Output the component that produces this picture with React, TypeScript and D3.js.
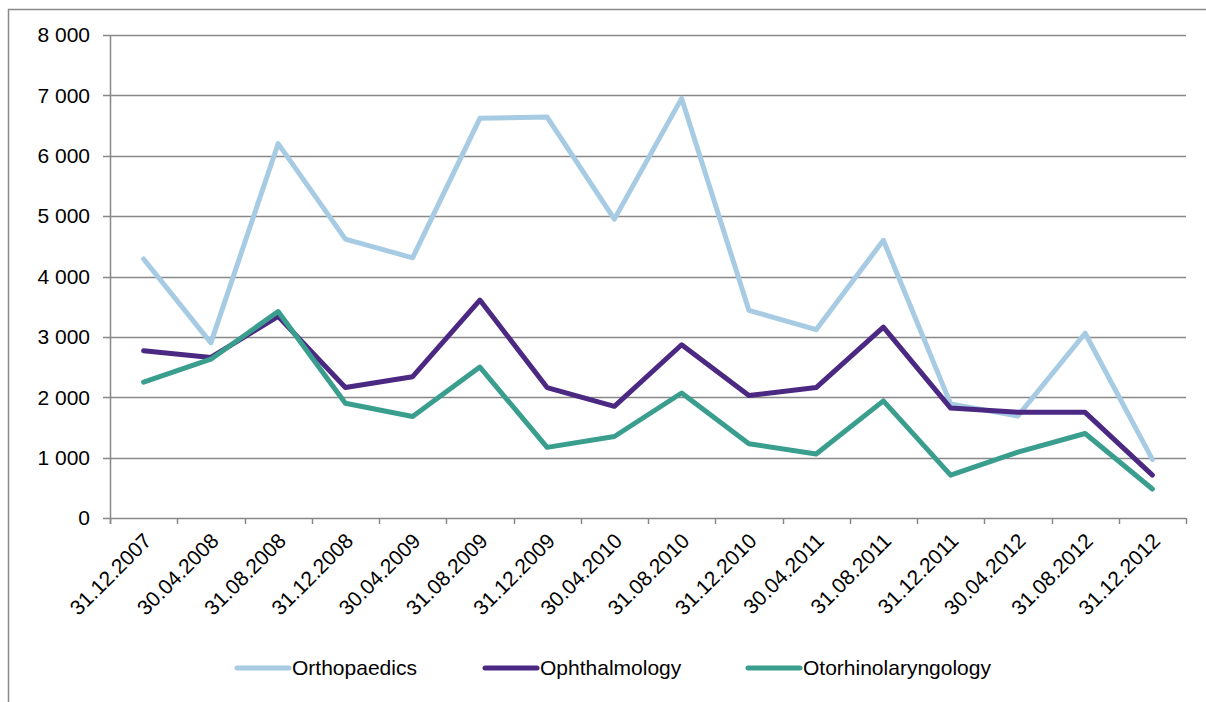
import React, { useEffect, useRef } from 'react'
import * as d3 from 'd3'

const dates = [
  '31.12.2007', '30.04.2008', '31.08.2008', '31.12.2008', '30.04.2009', '31.08.2009',
  '31.12.2009', '30.04.2010', '31.08.2010', '31.12.2010', '30.04.2011', '31.08.2011',
  '31.12.2011', '30.04.2012', '31.08.2012', '31.12.2012',
]
const orthopaedics = [4290, 2900, 6200, 4620, 4310, 6620, 6640, 4950, 6950, 3440, 3120, 4600, 1890, 1690, 3060, 970]
const ophthalmology = [2770, 2660, 3340, 2160, 2340, 3610, 2160, 1850, 2870, 2030, 2160, 3160, 1820, 1750, 1750, 710]
const otorhinolaryngology = [2250, 2630, 3420, 1900, 1680, 2500, 1170, 1350, 2070, 1230, 1060, 1940, 710, 1090, 1400, 480]
const seriesNames = ['Orthopaedics', 'Ophthalmology', 'Otorhinolaryngology']
const seriesColors = ['#A6CBE3', '#4B2882', '#3A9E8E']
const yTicks = [0, 1000, 2000, 3000, 4000, 5000, 6000, 7000, 8000]

const App: React.FC = () => {
  const ref = useRef<SVGSVGElement | null>(null)

  useEffect(() => {
    if (!ref.current) return
    const svg = d3.select(ref.current)
    svg.selectAll('*').remove()
    const width = 1206
    const height = 702
    const margin = { top: 35, right: 20, bottom: 184, left: 110 }
    const font = '"Liberation Sans", Arial, sans-serif'
    const fontSize = 21
    const axisColor = '#888888'

    // outer frame (runs off the picture on the right and bottom)
    svg
      .append('rect')
      .attr('x', 8.5)
      .attr('y', 9.5)
      .attr('width', 1400)
      .attr('height', 900)
      .attr('fill', 'none')
      .attr('stroke', axisColor)
      .attr('stroke-width', 1.5)

    const x = d3
      .scaleBand()
      .domain(dates)
      .range([margin.left, width - margin.right])
    const y = d3
      .scaleLinear()
      .domain([0, 8000])
      .range([height - margin.bottom, margin.top])

    // gridlines + y labels
    const fmt = (v: number) => d3.format(',')(v).replace(/,/g, ' ')
    const yg = svg.append('g')
    yTicks.forEach((t) => {
      yg.append('line')
        .attr('x1', margin.left - 7)
        .attr('x2', width - margin.right)
        .attr('y1', Math.round(y(t)) + 0.5)
        .attr('y2', Math.round(y(t)) + 0.5)
        .attr('stroke', axisColor)
        .attr('stroke-width', 1.5)
      yg.append('text')
        .attr('x', margin.left - 20)
        .attr('y', y(t))
        .attr('dy', '0.35em')
        .attr('text-anchor', 'end')
        .attr('font-family', font)
        .attr('font-size', fontSize)
        .attr('fill', '#000')
        .text(fmt(t))
    })

    // y axis line
    svg
      .append('line')
      .attr('x1', margin.left + 0.5)
      .attr('x2', margin.left + 0.5)
      .attr('y1', y(8000))
      .attr('y2', y(0) + 6)
      .attr('stroke', axisColor)
      .attr('stroke-width', 1.5)

    // x ticks
    const xBound = [...dates.map((d) => x(d)!), width - margin.right]
    xBound.forEach((bx) => {
      svg
        .append('line')
        .attr('x1', Math.round(bx) + 0.5)
        .attr('x2', Math.round(bx) + 0.5)
        .attr('y1', y(0))
        .attr('y2', y(0) + 6)
        .attr('stroke', axisColor)
        .attr('stroke-width', 1.5)
    })

    // x labels
    dates.forEach((d) => {
      const cx = x(d)! + x.bandwidth() / 2 + 4
      const cy = y(0) + 19
      svg
        .append('text')
        .attr('transform', `translate(${cx},${cy}) rotate(-45)`)
        .attr('text-anchor', 'end')
        .attr('dy', '0.35em')
        .attr('font-family', font)
        .attr('font-size', fontSize)
        .attr('fill', '#000')
        .text(d)
    })

    // lines
    const allSeries = [orthopaedics, ophthalmology, otorhinolaryngology]
    const line = d3
      .line<number>()
      .x((_, i) => x(dates[i])! + x.bandwidth() / 2)
      .y((v) => y(v))
    allSeries.forEach((s, i) => {
      svg
        .append('path')
        .datum(s)
        .attr('d', line)
        .attr('fill', 'none')
        .attr('stroke', seriesColors[i])
        .attr('stroke-width', 5)
        .attr('stroke-linejoin', 'round')
        .attr('stroke-linecap', 'round')
    })

    // legend
    const legendX = [237, 485, 748]
    const ly = 668
    seriesNames.forEach((n, i) => {
      svg
        .append('line')
        .attr('x1', legendX[i])
        .attr('x2', legendX[i] + 52)
        .attr('y1', ly)
        .attr('y2', ly)
        .attr('stroke', seriesColors[i])
        .attr('stroke-width', 5)
        .attr('stroke-linecap', 'round')
      svg
        .append('text')
        .attr('x', legendX[i] + 55)
        .attr('y', ly)
        .attr('dy', '0.35em')
        .attr('font-family', font)
        .attr('font-size', fontSize)
        .attr('fill', '#000')
        .text(n)
    })
  }, [])

  return (
    <svg
      ref={ref}
      width={1206}
      height={702}
      style={{ position: 'absolute', left: 0, top: 0, background: '#fff' }}
    ></svg>
  )
}

export default App
